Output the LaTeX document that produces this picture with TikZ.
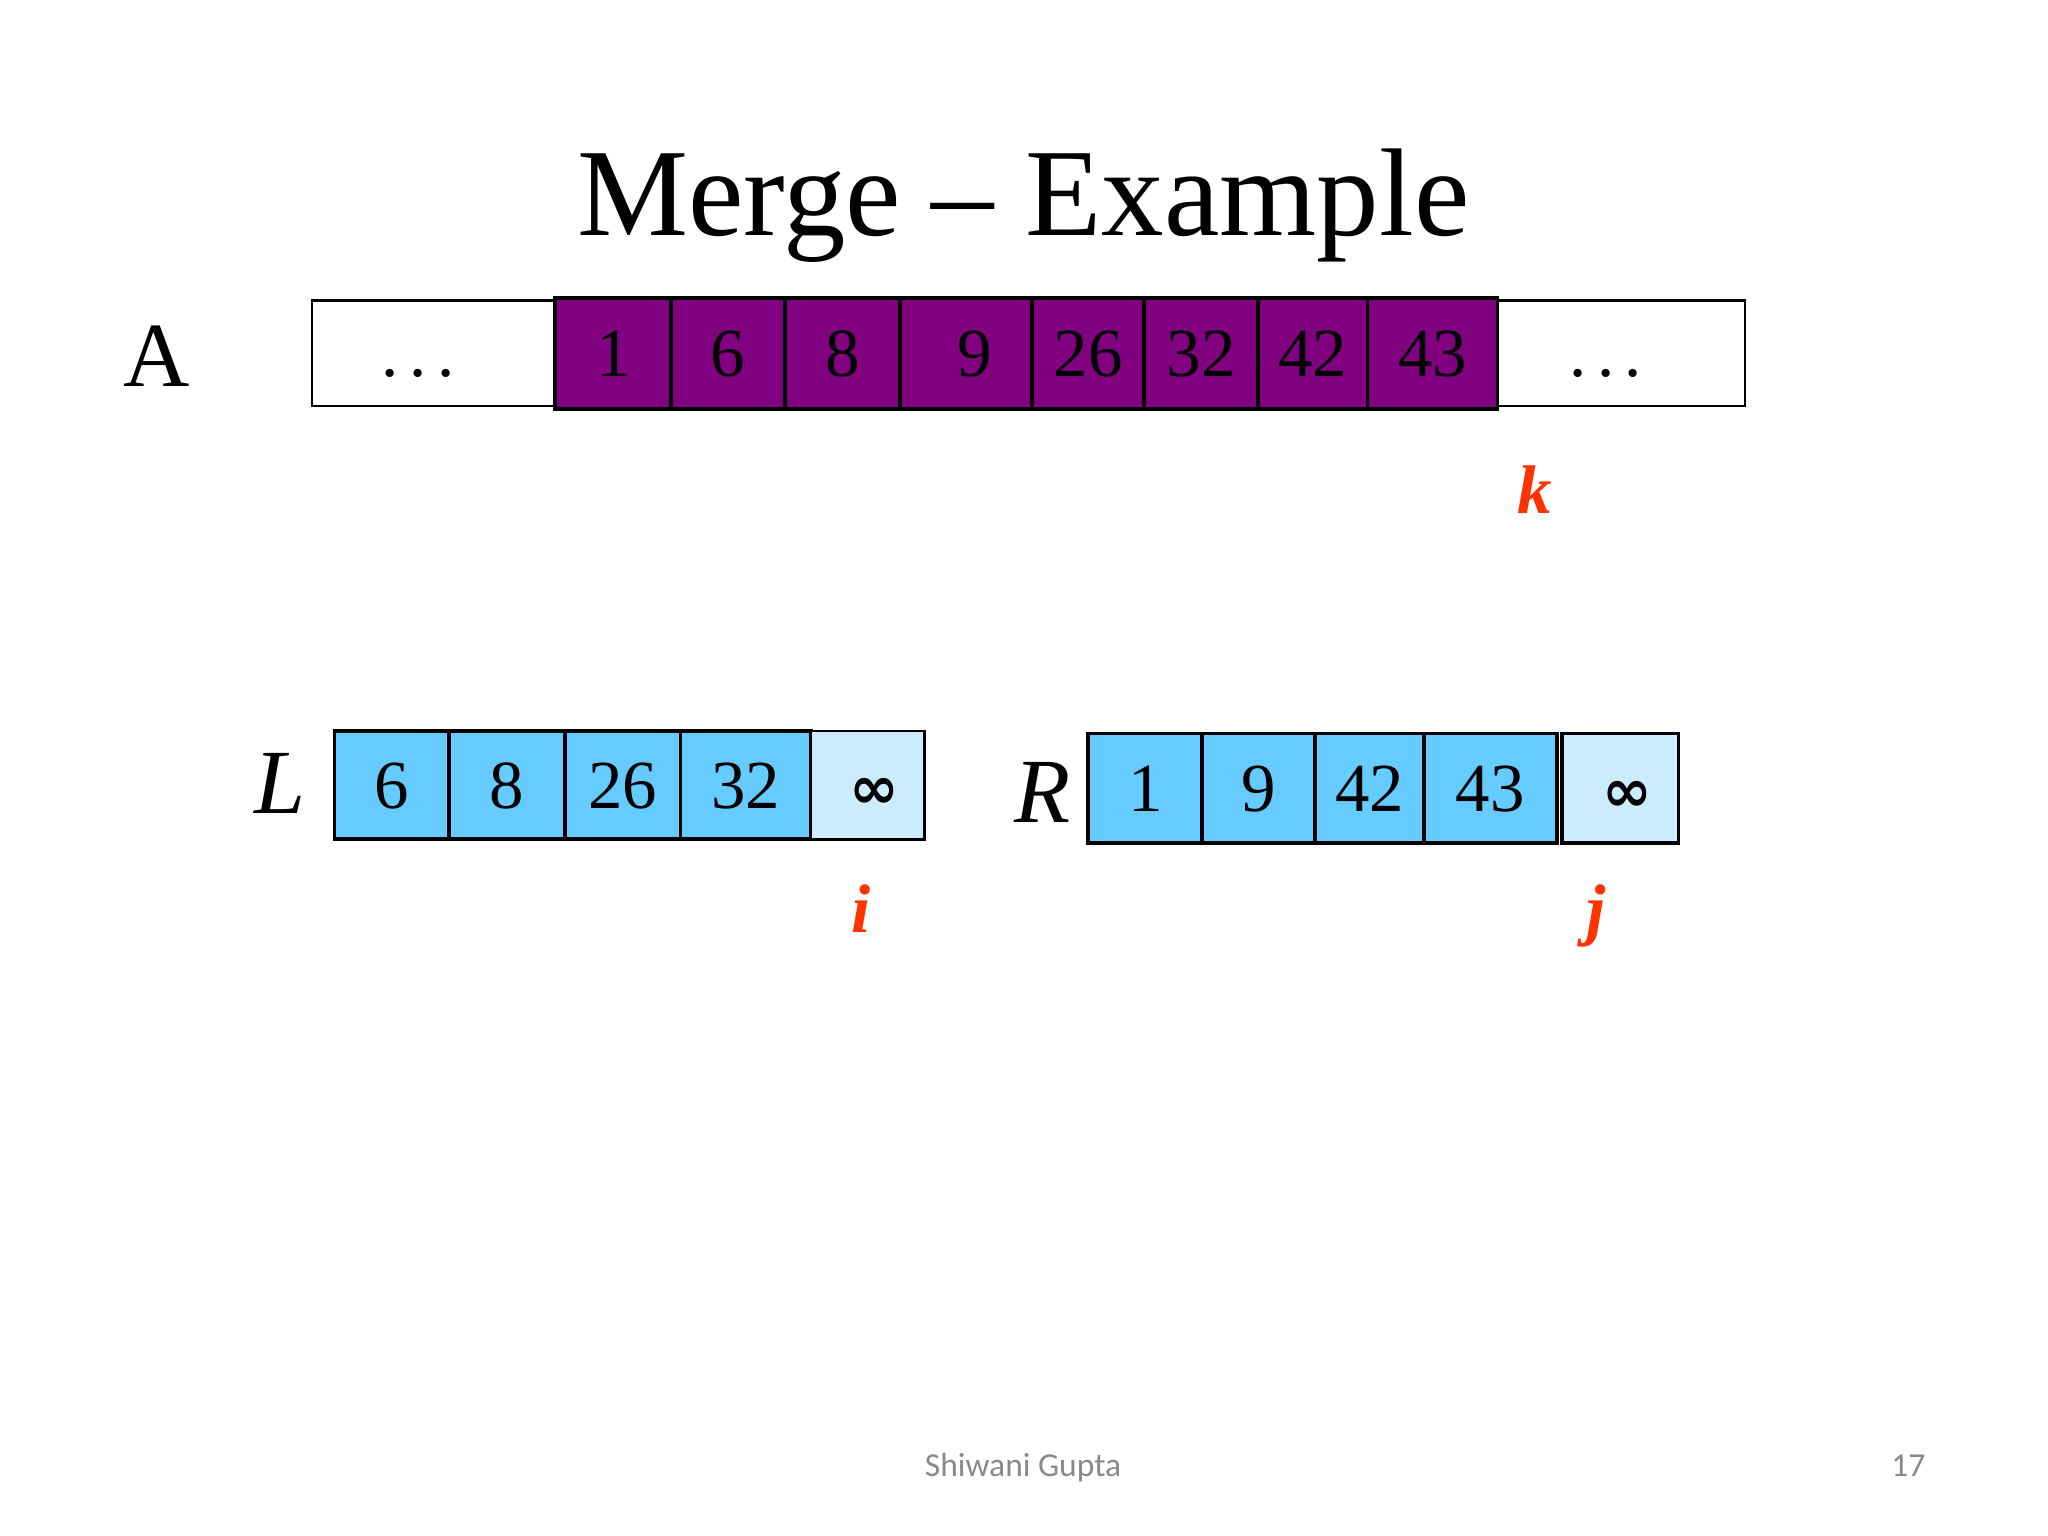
\documentclass[tikz,border=0pt]{standalone}
\usepackage{fontspec}
\setmainfont{Liberation Serif}
\newfontfamily\footfont{Carlito}
\newfontfamily\symfont{DejaVu Sans}
\usetikzlibrary{positioning}
\definecolor{cellpurple}{HTML}{800080}
\definecolor{cellblue}{HTML}{66CCFF}
\definecolor{celllight}{HTML}{CCECFF}
\definecolor{idxred}{HTML}{FF3300}
\definecolor{footgray}{HTML}{898989}
\newcommand{\celldots}{.\kern0.15em.\kern0.15em.\kern0.45em}
\newcommand{\infsym}{\kern0.2em{\symfont\bfseries\fontsize{13}{13}\selectfont ∞}}
\tikzset{
  box/.style={draw, line width=0.5pt, inner sep=0pt, outer sep=0pt,
    minimum height=0.81cm, text height=0.357cm, text depth=0pt,
    font=\fontsize{15}{15}\selectfont},
  acell/.style={box, fill=cellpurple, line width=0.8pt, minimum height=0.85cm},
  lcell/.style={box, fill=cellblue, line width=0.8pt, minimum height=0.83cm},
  inftycell/.style={box, fill=celllight},
  arrname/.style={anchor=base, font=\fontsize{20}{20}\selectfont},
  idx/.style={anchor=base, text=idxred, font=\fontsize{15}{15}\selectfont\bfseries\itshape}
}
\begin{document}
\begin{tikzpicture}
\useasboundingbox (0,0) rectangle (15.68,-11.76);
\node[anchor=base, font=\fontsize{27.2}{27.2}\selectfont] (title) at (7.835,-1.80) {Merge – Example};
% array A
\node[arrname] (labA) at (1.20,-2.96) {A};
\node[box, minimum width=1.863cm] (adotsl) at (3.32,-2.705) {\celldots};
\node[acell, minimum width=0.887cm, right=0pt of adotsl] (a1) {1};
\node[acell, minimum width=0.873cm, right=0pt of a1] (a2) {6};
\node[acell, minimum width=0.881cm, right=0pt of a2] (a3) {8};
\node[acell, minimum width=1.011cm, right=0pt of a3] (a4) {\kern0.25em 9};
\node[acell, minimum width=0.857cm, right=0pt of a4] (a5) {26};
\node[acell, minimum width=0.872cm, right=0pt of a5] (a6) {32};
\node[acell, minimum width=0.836cm, right=0pt of a6] (a7) {42};
\node[acell, minimum width=0.997cm, right=0pt of a7] (a8) {43};
\node[box, minimum width=1.893cm, right=0pt of a8] (adotsr) {\celldots};
\node[idx] (k) at (11.75,-3.93) {k};
% array L
\node[arrname, font=\fontsize{20}{20}\selectfont\itshape] (labL) at (2.145,-6.226) {L};
\node[lcell, minimum width=0.878cm] (l1) at (2.999,-6.011) {6};
\node[lcell, minimum width=0.886cm, right=0pt of l1] (l2) {8};
\node[lcell, minimum width=0.885cm, right=0pt of l2] (l3) {26};
\node[lcell, minimum width=1.001cm, right=0pt of l3] (l4) {32};
\node[inftycell, line width=0.6pt, minimum height=0.83cm, minimum width=0.867cm, right=0pt of l4] (l5) {\infsym};
\node[idx] (i) at (6.59,-7.14) {i};
% array R
\node[arrname, font=\fontsize{20}{20}\selectfont\itshape] (labR) at (7.98,-6.30) {R};
\node[lcell, minimum width=0.872cm, minimum height=0.84cm] (r1) at (8.768,-6.036) {1};
\node[lcell, minimum width=0.866cm, minimum height=0.84cm, right=0pt of r1] (r2) {9};
\node[lcell, minimum width=0.830cm, minimum height=0.84cm, right=0pt of r2] (r3) {42};
\node[lcell, minimum width=1.021cm, minimum height=0.84cm, right=0pt of r3] (r4) {43};
\node[inftycell, line width=0.8pt, minimum height=0.84cm, minimum width=0.893cm, right=0.036cm of r4] (r5) {\infsym};
\node[idx] (j) at (12.22,-7.14) {j};
% footer
\node[anchor=base, text=footgray, font=\footfont\fontsize{7.3}{7.3}\selectfont] (author) at (7.833,-11.307) {Shiwani Gupta};
\node[anchor=base, text=footgray, font=\footfont\fontsize{7.3}{7.3}\selectfont] (page) at (14.61,-11.307) {17};
\end{tikzpicture}
\end{document}
